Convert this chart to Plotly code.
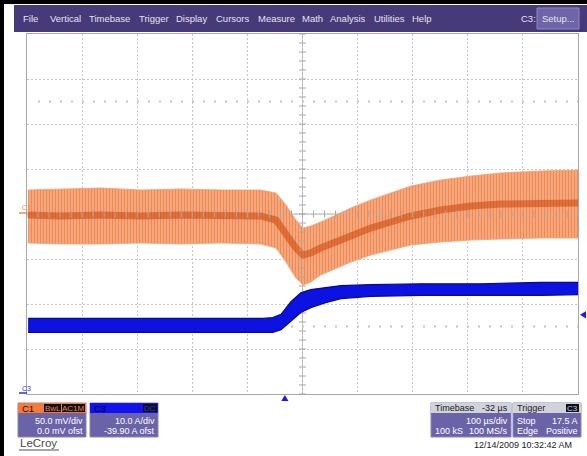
import plotly.graph_objects as go

W, H = 587, 456

# ---- data (time in us relative to trigger) ----
c1_time = [-466, -407, -334, -261, -189, -116, -44, -16, 2, 20, 33, 47, 65, 93, 120, 156, 192, 229, 283, 338, 392, 465, 534]
c1_upper = [26.7, 27.8, 28.9, 26.7, 27.8, 26.7, 26.7, 23.3, 10.0, -6.7, -15.6, -13.3, -8.9, -1.1, 6.7, 15.6, 23.3, 31.1, 37.8, 42.2, 45.6, 47.8, 48.9]
c1_lower = [-32.2, -33.3, -33.3, -32.2, -33.3, -32.2, -33.3, -37.8, -53.3, -71.1, -78.9, -75.6, -67.8, -60.0, -53.3, -45.6, -40.0, -34.4, -31.1, -28.9, -27.8, -26.7, -26.7]
c1_mean = [-1.1, -2.2, -1.1, -2.2, -1.1, -2.2, -2.2, -6.7, -23.3, -37.8, -45.6, -43.3, -37.8, -31.1, -23.3, -15.6, -8.9, -2.2, 4.4, 8.9, 11.1, 12.2, 12.2]

c3_time = [-466, -334, -152, -40, -22, -7, 11, 29, 47, 74, 102, 156, 247, 356, 465, 534]
c3_upper = [16.7, 16.7, 16.7, 16.7, 16.9, 17.6, 20.4, 22.4, 23.1, 23.6, 24.0, 24.2, 24.4, 24.4, 24.7, 24.7]
c3_lower = [13.6, 13.6, 13.6, 13.6, 13.6, 14.2, 16.0, 18.0, 19.1, 20.2, 21.1, 21.6, 21.8, 21.8, 21.8, 22.0]

menu_items = ["File", "Vertical", "Timebase", "Trigger", "Display", "Cursors", "Measure", "Math", "Analysis", "Utilities", "Help"]
menu_x = [21, 48, 87, 137, 174, 214, 256, 300, 328, 372, 410]

trigger_time_us = 0.0
trigger_level_A = 17.5
c1_scale, c1_ofst = 50.0, 0.0      # mV/div, mV
c3_scale, c3_ofst = 10.0, -39.90   # A/div, A
t_left, t_right = -468, 532        # us

# ---- geometry ----
GX0, GX1, GY0, GY1 = 27, 578, 34, 394
def X(px): return px / W
def Y(py): return 1 - py / H

FONT = "Liberation Sans, Arial, sans-serif"

fig = go.Figure()

# C1 noise band
fig.add_trace(go.Scatter(x=c1_time, y=c1_lower, mode="lines", line=dict(width=0.8, color="#f2a070"),
                         showlegend=False, hoverinfo="skip"))
fig.add_trace(go.Scatter(x=c1_time, y=c1_upper, mode="lines", line=dict(width=0.8, color="#f2a070"),
                         fill="tonexty", fillcolor="#f7b48c",
                         fillpattern=dict(shape="|", fgcolor="#e8560f", bgcolor="#f8bc98", size=3, solidity=0.6),
                         showlegend=False, hoverinfo="skip"))
fig.add_trace(go.Scatter(x=c1_time, y=c1_mean, mode="lines", line=dict(width=7, color="#cc4408"),
                         opacity=0.55, showlegend=False, hoverinfo="skip"))

# C3 band
fig.add_trace(go.Scatter(x=c3_time, y=c3_lower, yaxis="y2", mode="lines", line=dict(width=1.2, color="#0a0a8c"),
                         showlegend=False, hoverinfo="skip"))
fig.add_trace(go.Scatter(x=c3_time, y=c3_upper, yaxis="y2", mode="lines", line=dict(width=1.2, color="#0a0a8c"),
                         fill="tonexty", fillcolor="#0c12e2", showlegend=False, hoverinfo="skip"))

# center-line tick marks (graticule decoration)
t_center = (t_left + t_right) / 2
tick_x = [t_left + i * 20 for i in range(51)]
tick_y = [-200 + i * 10 for i in range(41)]
fig.add_trace(go.Scatter(x=tick_x, y=[0] * len(tick_x), mode="markers",
                         marker=dict(symbol="line-ns", size=5, line=dict(width=1, color="#a8a8a8")),
                         showlegend=False, hoverinfo="skip"))
fig.add_trace(go.Scatter(x=[t_center] * len(tick_y), y=tick_y, mode="markers",
                         marker=dict(symbol="line-ew", size=5, line=dict(width=1, color="#a8a8a8")),
                         showlegend=False, hoverinfo="skip"))

shapes = []
# center cross
shapes.append(dict(type="line", xref="x", yref="y", x0=t_center, x1=t_center, y0=-200, y1=200,
                   line=dict(color="#b0b0b0", width=1), layer="below"))
shapes.append(dict(type="line", xref="x", yref="y", x0=t_left, x1=t_right, y0=0, y1=0,
                   line=dict(color="#b0b0b0", width=1), layer="below"))
# dotted rows at +-2.5 div
for yy in (125, -125):
    shapes.append(dict(type="line", xref="x", yref="y", x0=t_left + 20, x1=t_right, y0=yy, y1=yy,
                       line=dict(color="#c4c4c4", width=2, dash="2px,9px"), layer="below"))

# trigger position / level markers
tp = trigger_time_us
shapes.append(dict(type="path", xref="x", yref="paper",
                   path=f"M {tp - 6.5},{Y(401)} L {tp + 6.5},{Y(401)} L {tp},{Y(395)} Z",
                   fillcolor="#1a1af0", line=dict(width=0)))
shapes.append(dict(type="path", xref="paper", yref="y2",
                   path=f"M {X(586)},{trigger_level_A - 0.8} L {X(586)},{trigger_level_A + 0.8} L {X(580)},{trigger_level_A} Z",
                   fillcolor="#1a1af0", line=dict(width=0)))

# black border left/top
shapes.append(dict(type="rect", xref="paper", yref="paper", x0=0, x1=X(4), y0=0, y1=1,
                   fillcolor="black", line=dict(width=0)))
shapes.append(dict(type="rect", xref="paper", yref="paper", x0=0, x1=1, y0=Y(4), y1=1,
                   fillcolor="black", line=dict(width=0)))
# menu bar
shapes.append(dict(type="rect", xref="paper", yref="paper", x0=X(14), x1=1, y0=Y(32), y1=Y(5),
                   fillcolor="#463a78", line=dict(width=0)))
shapes.append(dict(type="rect", xref="paper", yref="paper", x0=X(537), x1=X(579), y0=Y(29), y1=Y(8),
                   fillcolor="#6e64a8", line=dict(width=1, color="#8e86c4")))

def rect(x0, x1, y0, y1, fill, line="#8a84c0", lw=1):
    shapes.append(dict(type="rect", xref="paper", yref="paper", x0=X(x0), x1=X(x1), y0=Y(y1), y1=Y(y0),
                       fillcolor=fill, line=dict(width=lw, color=line)))

BODY = "#6b63a8"
# C1 panel
rect(18, 86, 403, 437, BODY)
rect(18, 86, 403, 413, "#f47a3c", lw=0)
rect(44, 61, 404, 412, "#111111", lw=0)
rect(62, 85, 404, 412, "#111111", lw=0)
# C3 panel
rect(90, 158, 403, 437, BODY)
rect(90, 158, 403, 413, "#1212ee", lw=0)
rect(143, 157, 404, 412, "#111111", lw=0)
# Timebase panel
rect(431, 511, 403, 437, BODY)
rect(431, 511, 403, 413, "#d2d2da", lw=0)
# Trigger panel
rect(513, 581, 403, 437, BODY)
rect(513, 581, 403, 413, "#d2d2da", lw=0)
rect(566, 579, 404, 412, "#111111", lw=0)
# small channel markers on left
shapes.append(dict(type="line", xref="paper", yref="paper", x0=X(19), x1=X(27), y0=Y(213), y1=Y(213),
                   line=dict(color="#f08a50", width=1.5)))
shapes.append(dict(type="line", xref="paper", yref="paper", x0=X(19), x1=X(27), y0=Y(393), y1=Y(393),
                   line=dict(color="#3030e0", width=1.5)))
# LeCroy underline
shapes.append(dict(type="line", xref="paper", yref="paper", x0=X(19), x1=X(59), y0=Y(450), y1=Y(450),
                   line=dict(color="#505050", width=1)))

ann = []
def text(s, x, y, size=9, color="white", anchor="left", family=FONT):
    ann.append(dict(text=s, x=X(x), y=Y(y), xref="paper", yref="paper", showarrow=False,
                    xanchor=anchor, yanchor="middle", font=dict(size=size, color=color, family=family)))

for item, mx in zip(menu_items, menu_x):
    text(item, mx, 19, size=9.5, color="#e4e4f0")
text("C3:", 519, 19, size=9.5, color="#e4e4f0")
text("Setup...", 558, 19, size=9.5, color="#e4e4f0", anchor="center")

text("C1", 20, 207, size=7, color="#f08a50")
text("C3", 20, 388, size=7, color="#3030e0")

text("C1", 20, 408, size=9.5, color="#2a1000")
text("BwL", 52.5, 408, size=8, color="#f08040", anchor="center")
text("AC1M", 73.5, 408, size=8, color="#f08040", anchor="center")
text(f"{c1_scale:.1f} mV/div", 85, 421, anchor="right")
text(f"{c1_ofst:.1f} mV ofst", 85, 431, anchor="right")

text("C3", 92, 408, size=9.5, color="#00004a")
text("DC", 150, 408, size=8, color="#2a2aff", anchor="center")
text(f"{c3_scale:.1f} A/div", 157, 421, anchor="right")
text(f"{c3_ofst:.2f} A ofst", 157, 431, anchor="right")

text("LeCroy", 18, 443, size=11.5, color="#4a4a4a")

text("Timebase", 433, 408, color="#1a1a1a")
text("-32 µs", 510, 408, color="#1a1a1a", anchor="right")
text("100 µs/div", 510, 421, anchor="right")
text("100 kS", 433, 431)
text("100 MS/s", 510, 431, anchor="right")

text("Trigger", 515, 408, color="#1a1a1a")
text("C3", 572.5, 408, size=8, color="#c8c8ff", anchor="center")
text("Stop", 515, 421)
text(f"{trigger_level_A:.1f} A", 580, 421, anchor="right")
text("Edge", 515, 431)
text("Positive", 580, 431, anchor="right")

text("12/14/2009 10:32:42 AM", 574, 445, size=9, color="#1a1a1a", anchor="right")

c3_center = -c3_ofst
fig.update_layout(
    width=W, height=H, autosize=False,
    margin=dict(l=0, r=0, t=0, b=0, pad=0),
    paper_bgcolor="white", plot_bgcolor="white",
    xaxis=dict(domain=[X(GX0), X(GX1)], range=[t_left, t_right], tick0=t_left, dtick=100,
               showticklabels=False, ticks="", zeroline=False,
               showgrid=True, gridcolor="#c8c8c8", griddash="2px,2px", gridwidth=1,
               showline=True, mirror=True, linecolor="#a8a8a8", linewidth=1),
    yaxis=dict(domain=[Y(GY1), Y(GY0)], range=[-4 * c1_scale + c1_ofst, 4 * c1_scale + c1_ofst], tick0=0, dtick=50,
               showticklabels=False, ticks="", zeroline=False,
               showgrid=True, gridcolor="#c8c8c8", griddash="2px,2px", gridwidth=1,
               showline=True, mirror=True, linecolor="#a8a8a8", linewidth=1),
    yaxis2=dict(domain=[Y(GY1), Y(GY0)], overlaying="y", anchor="x",
                range=[c3_center - 4 * c3_scale, c3_center + 4 * c3_scale],
                showticklabels=False, ticks="", showgrid=False, zeroline=False, showline=False),
    shapes=shapes, annotations=ann, showlegend=False,
)

fig.write_html("out.html", config=dict(displayModeBar=False),
               post_script="document.body.style.margin='0';document.body.style.overflow='hidden';")
